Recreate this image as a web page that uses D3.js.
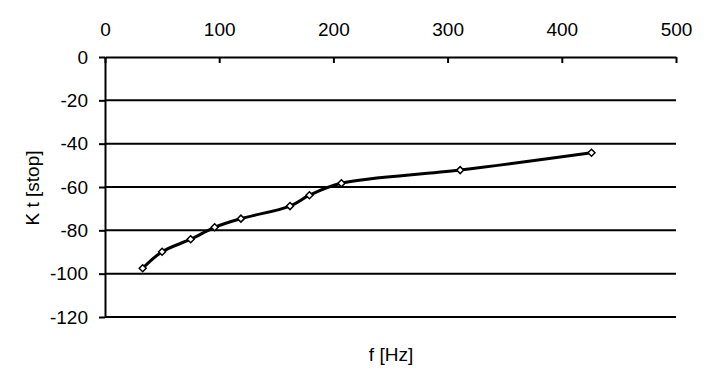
<!DOCTYPE html>
<html><head><meta charset="utf-8">
<script src="https://cdn.jsdelivr.net/npm/d3@7"></script>
<style>body{margin:0;background:#fff}svg{display:block}text{font-family:"Liberation Sans",Arial,sans-serif;fill:#000}</style>
</head><body>
<svg id="c" width="709" height="383"></svg>
<script>
const freq = [33, 50, 75, 96, 119, 162, 179, 207, 311, 426];
const kt = [-97.5, -89.9, -84.1, -78.6, -74.6, -68.8, -63.8, -58.3, -52.2, -44.2];
const xTicks = [0, 100, 200, 300, 400, 500];
const yTicks = [0, -20, -40, -60, -80, -100, -120];

const svg = d3.select("#c");
const x = d3.scaleLinear().domain([0, 500]).range([105, 676]);
const y = d3.scaleLinear().domain([0, -120]).range([57, 317]);
const fs = 19;
const fmt = d => String(d);

// gridlines
svg.append("g").selectAll("line").data(yTicks.filter(d => d !== 0)).join("line")
  .attr("x1", x(0)).attr("x2", x(500)).attr("y1", d => y(d)).attr("y2", d => y(d))
  .attr("stroke", "#000").attr("stroke-width", 2);

// top x axis: ticks pointing into plot
const xa = svg.append("g").attr("transform", `translate(0,${y(0)})`)
  .call(d3.axisBottom(x).tickValues(xTicks).tickSize(6).tickSizeOuter(0).tickFormat(fmt));
xa.select(".domain").attr("stroke-width", 2);
xa.selectAll(".tick line").attr("stroke-width", 2);
xa.selectAll(".tick text").attr("y", -28).attr("dy", "0.35em").attr("font-size", fs).attr("font-family", null);

const ya = svg.append("g").attr("transform", `translate(${x(0)},0)`)
  .call(d3.axisLeft(y).tickValues(yTicks).tickSize(6).tickSizeOuter(0).tickFormat(fmt));
ya.select(".domain").attr("stroke-width", 2);
ya.selectAll(".tick line").attr("stroke-width", 2);
ya.selectAll(".tick text").attr("x", -17).attr("font-size", fs).attr("font-family", null);
svg.selectAll(".tick text").attr("fill", "#000");
svg.selectAll(".domain, .tick line").attr("stroke", "#000");

// line
const pts = freq.map((f, i) => [f, kt[i]]);
svg.append("path").datum(pts)
  .attr("d", d3.line().x(d => x(d[0])).y(d => y(d[1])).curve(d3.curveCatmullRom.alpha(0.5)))
  .attr("fill", "none").attr("stroke", "#000").attr("stroke-width", 3);

svg.append("g").selectAll("path").data(pts).join("path")
  .attr("transform", d => `translate(${x(d[0])},${y(d[1])})`)
  .attr("d", "M0,-3.5L3.5,0L0,3.5L-3.5,0Z")
  .attr("fill", "#fff").attr("stroke", "#000").attr("stroke-width", 1.5);

// titles
svg.append("text").attr("x", 391).attr("y", 354).attr("dy", "0.35em").attr("text-anchor", "middle").attr("font-size", fs).text("f [Hz]");
svg.append("text").attr("transform", "translate(32,188) rotate(-90)").attr("dy", "0.35em").attr("text-anchor", "middle").attr("font-size", fs).text("K t [stop]");
</script>
</body></html>
